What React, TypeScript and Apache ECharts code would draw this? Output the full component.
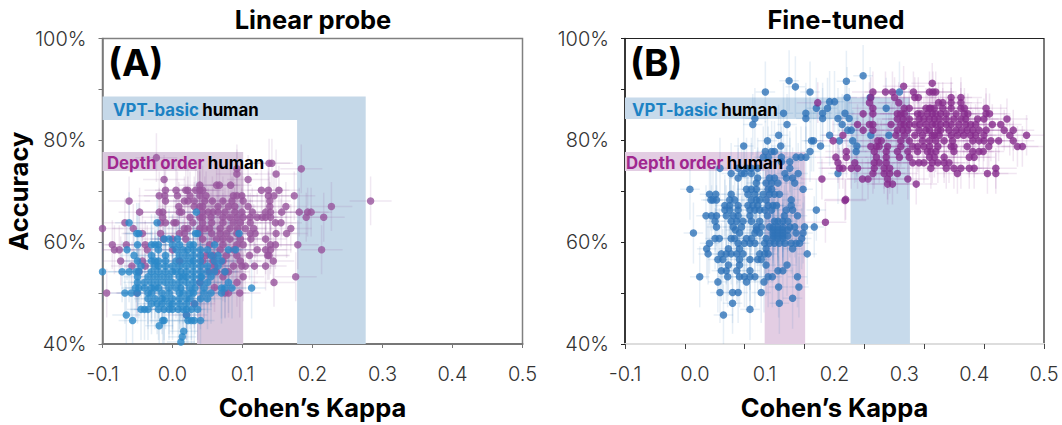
import React, { useEffect, useRef } from "react";
import * as echarts from "echarts";

type Row = [number, number[]];

const xTickLabels = ["-0.1", "0.0", "0.1", "0.2", "0.3", "0.4", "0.5"];

// Panel A, accuracy row then kappa values
const linearDepth: Row[] = [
  [76.6, [-0.023]],
  [75.5, [0.138, 0.142]],
  [74.4, [0.092, 0.184]],
  [73.4, [0.092, 0.148]],
  [72.3, [-0.012, 0.108]],
  [71.2, [0.039, 0.063, 0.067, 0.083]],
  [70.2, [-0.01, 0.005, 0.019, 0.022, 0.033, 0.039, 0.043, 0.127, 0.137, 0.152]],
  [69.1, [-0.019, -0.011, 0.007, 0.025, 0.039, 0.048, 0.087, 0.092, 0.099, 0.137, 0.145, 0.174]],
  [68.1, [-0.062, -0.01, 0.017, 0.022, 0.031, 0.046, 0.057, 0.072, 0.085, 0.101, 0.139, 0.283]],
  [67.0, [0.009, 0.031, 0.039, 0.043, 0.065, 0.08, 0.089, 0.108, 0.139, 0.162, 0.227]],
  [65.9, [-0.047, -0.019, -0.014, 0.01, 0.013, 0.043, 0.051, 0.058, 0.065, 0.075, 0.089, 0.099, 0.114, 0.133, 0.14, 0.156, 0.181, 0.193, 0.198]],
  [64.9, [-0.014, 0.025, 0.039, 0.043, 0.055, 0.072, 0.082, 0.092, 0.101, 0.111, 0.121, 0.128, 0.133, 0.14, 0.191, 0.216]],
  [63.8, [-0.068, -0.017, -0.01, 0.002, 0.005, 0.029, 0.043, 0.056, 0.072, 0.087, 0.097, 0.111, 0.147, 0.155]],
  [62.7, [-0.1, -0.056, 0.017, 0.022, 0.039, 0.046, 0.053, 0.068, 0.082, 0.093, 0.104, 0.116, 0.169]],
  [61.7, [-0.043, -0.017, 0.01, 0.017, 0.039, 0.056, 0.068, 0.077, 0.092, 0.111, 0.118, 0.148, 0.163]],
  [60.6, [-0.013, 0, 0.019, 0.043, 0.063, 0.072, 0.082, 0.097, 0.112, 0.133]],
  [59.5, [-0.086, -0.066, -0.039, 0.053, 0.072, 0.092, 0.101, 0.14, 0.147, 0.179]],
  [58.5, [-0.083, -0.076, -0.036, 0, 0.068, 0.087, 0.121, 0.133, 0.14, 0.213]],
  [57.4, [0.048, 0.058, 0.077, 0.092, 0.11, 0.136, 0.138]],
  [56.3, [-0.074, -0.043, 0.01, 0.043, 0.058, 0.072, 0.097, 0.144]],
  [55.3, [-0.058, -0.039, 0.06, 0.087, 0.099, 0.104, 0.117, 0.133]],
  [54.2, [-0.048, 0.053, 0.063, 0.075, 0.08]],
  [53.2, [0.072, 0.101, 0.176]],
  [52.1, [0.039, 0.092, 0.145]],
  [51.1, [0.06]],
  [50.0, [-0.094, -0.051, 0.075, 0.08, 0.096]],
  [47.9, [0.031]],
  [45.7, [0.02]],
];

const linearVpt: Row[] = [
  [65.9, [0.034]],
  [63.8, [-0.062, -0.022]],
  [61.7, [-0.051, -0.048, 0.033, 0.036, 0.095]],
  [60.6, [-0.012, -0.005, 0.007]],
  [59.5, [-0.05, -0.03, -0.025, -0.02, 0, 0.01, 0.025, 0.03, 0.06]],
  [58.5, [-0.065, -0.02, 0.005, 0.015, 0.022, 0.03, 0.04, 0.05, 0.08, 0.09]],
  [57.4, [-0.055, -0.03, -0.01, 0.01, 0.02, 0.03, 0.04, 0.055, 0.065]],
  [56.3, [-0.05, -0.03, -0.025, -0.02, -0.01, 0.005, 0.015, 0.025, 0.03, 0.04, 0.06, 0.07]],
  [55.3, [-0.045, -0.025, -0.02, -0.01, 0, 0.01, 0.02, 0.03, 0.04, 0.05, 0.065]],
  [54.2, [-0.1, -0.072, -0.062, -0.052, -0.048, -0.03, -0.02, -0.01, 0, 0.005, 0.012, 0.02, 0.03, 0.04, 0.05, 0.06, 0.075]],
  [53.2, [-0.05, -0.035, -0.025, -0.015, -0.005, 0.01, 0.015, 0.02, 0.03, 0.04, 0.042, 0.055]],
  [52.1, [-0.05, -0.04, -0.03, -0.02, -0.01, 0, 0.01, 0.02, 0.03, 0.04, 0.05, 0.08]],
  [51.0, [-0.053, -0.048, -0.04, -0.03, -0.025, -0.02, -0.005, 0.005, 0.012, 0.025, 0.032, 0.045, 0.07, 0.075, 0.085, 0.113]],
  [50.0, [-0.068, -0.059, -0.05, -0.035, -0.03, -0.015, -0.005, 0.01, 0.015, 0.025, 0.03, 0.045, 0.055, 0.07]],
  [48.9, [-0.035, -0.025, -0.015, -0.01, 0, 0.01, 0.02, 0.025, 0.04, 0.05]],
  [47.9, [-0.03, -0.022, -0.015, -0.005, 0, 0.01, 0.02, 0.032]],
  [46.8, [-0.045, -0.04, -0.035, -0.02, -0.012, -0.005, 0, 0.008, 0.015, 0.02, 0.027, 0.036]],
  [45.7, [-0.066, 0.02]],
  [44.6, [-0.057, -0.014, -0.012, 0.022, 0.027, 0.031, 0.04]],
  [43.6, [-0.019]],
  [42.5, [0.016]],
  [41.4, [0.014]],
  [40.4, [0.012]],
];

// Panel B
const tunedVpt: Row[] = [
  [92.7, [0.241]],
  [91.7, [0.135]],
  [91.6, [0.217]],
  [90.5, [0.144]],
  [89.5, [0.101, 0.165, 0.293]],
  [88.4, [0.218, 0.251]],
  [87.6, [0.193, 0.2]],
  [86.3, [0.174, 0.19, 0.274]],
  [85.3, [0.127, 0.159, 0.183, 0.215]],
  [84.3, [0.159, 0.183, 0.086, 0.205, 0.221]],
  [83.1, [0.083, 0.132, 0.211]],
  [82.0, [0.219, 0.224]],
  [81.0, [0.12, 0.193, 0.252, 0.278]],
  [79.9, [0.104, 0.167, 0.17, 0.207, 0.226]],
  [78.9, [0.07, 0.123, 0.18, 0.232]],
  [77.8, [0.101, 0.11, 0.114, 0.165, 0.231]],
  [76.7, [0.098, 0.105, 0.124, 0.145, 0.152, 0.159]],
  [75.8, [0.124, 0.136]],
  [74.5, [0.036, 0.062, 0.074, 0.081, 0.09, 0.136]],
  [73.5, [0.052, 0.067, 0.071, 0.081, 0.129, 0.148, 0.205]],
  [72.6, [0.062, 0.09, 0.107, 0.114, 0.131, 0.14]],
  [71.6, [0.088, 0.102, 0.11, 0.119, 0.143]],
  [70.4, [-0.007, 0.074, 0.081, 0.088, 0.105, 0.11, 0.155]],
  [69.4, [0.021, 0.03, 0.052, 0.076, 0.086, 0.098, 0.107, 0.114, 0.121]],
  [68.3, [0.023, 0.026, 0.031, 0.05, 0.057, 0.081, 0.088, 0.093, 0.102, 0.138]],
  [67.2, [0.043, 0.05, 0.062, 0.076, 0.083, 0.09, 0.105, 0.112, 0.117, 0.138]],
  [66.3, [0.043, 0.05, 0.062, 0.079, 0.086, 0.093, 0.1, 0.11, 0.131, 0.14, 0.174]],
  [65.2, [0.016, 0.024, 0.031, 0.045, 0.055, 0.062, 0.079, 0.104, 0.128, 0.147]],
  [64.1, [0.029, 0.052, 0.06, 0.069, 0.081, 0.093, 0.114, 0.119, 0.126, 0.133]],
  [63.0, [0.031, 0.055, 0.067, 0.088, 0.095, 0.107, 0.112, 0.119, 0.126, 0.136, 0.143, 0.157, 0.171]],
  [62.4, [0.058, 0.088, 0.112, 0.119, 0.126, 0.133]],
  [61.8, [-0.002, 0.064, 0.086, 0.093, 0.112, 0.119, 0.126, 0.145, 0.155]],
  [61.2, [0.112, 0.119, 0.126, 0.133]],
  [60.7, [0.029, 0.035, 0.052, 0.057, 0.074, 0.081, 0.102, 0.112, 0.119, 0.126, 0.153]],
  [59.8, [0.021, 0.062, 0.071, 0.079, 0.086, 0.1, 0.107, 0.114, 0.121, 0.129, 0.138, 0.145, 0.15]],
  [58.7, [0.017, 0.048, 0.064, 0.102, 0.14]],
  [57.7, [0.019, 0.038, 0.045, 0.052, 0.06, 0.069, 0.093, 0.1, 0.105, 0.161]],
  [56.6, [0.033, 0.04, 0.064, 0.079, 0.09, 0.095]],
  [55.5, [0.048, 0.064, 0.102, 0.132]],
  [54.4, [0.038, 0.045, 0.06, 0.079, 0.119, 0.126]],
  [53.2, [0.007, 0.047, 0.064, 0.071, 0.079, 0.086, 0.105, 0.111, 0.147]],
  [52.2, [0.033, 0.074, 0.099]],
  [51.2, [0.12, 0.149]],
  [50.1, [0.036, 0.054, 0.062, 0.095]],
  [49.0, [0.14]],
  [48.0, [0.054, 0.121]],
  [46.8, [0.079]],
  [45.7, [0.041]],
];

const tunedDepth: Row[] = [
  [91.2, [0.34]],
  [90.6, [0.299]],
  [89.5, [0.255, 0.273, 0.283, 0.313, 0.336, 0.341, 0.345]],
  [88.4, [0.252, 0.286, 0.315, 0.32, 0.367, 0.381]],
  [87.4, [0.176, 0.25, 0.292, 0.349, 0.355, 0.367, 0.381]],
  [86.3, [0.255, 0.3, 0.307, 0.331, 0.336, 0.338, 0.343, 0.355, 0.367, 0.381, 0.386, 0.417]],
  [85.2, [0.241, 0.255, 0.29, 0.295, 0.3, 0.319, 0.324, 0.333, 0.34, 0.345, 0.352, 0.36, 0.374, 0.386, 0.391, 0.417, 0.422]],
  [84.2, [0.29, 0.298, 0.307, 0.321, 0.328, 0.336, 0.343, 0.35, 0.36, 0.371, 0.381, 0.388, 0.405, 0.414, 0.447]],
  [83.1, [0.233, 0.25, 0.255, 0.281, 0.295, 0.3, 0.307, 0.315, 0.322, 0.331, 0.34, 0.345, 0.352, 0.36, 0.367, 0.378, 0.388, 0.395, 0.402, 0.426, 0.438]],
  [82.0, [0.241, 0.255, 0.29, 0.298, 0.305, 0.321, 0.331, 0.336, 0.348, 0.352, 0.364, 0.374, 0.382, 0.39, 0.398, 0.407, 0.417, 0.443, 0.456]],
  [81.0, [0.212, 0.288, 0.3, 0.315, 0.326, 0.34, 0.343, 0.35, 0.367, 0.376, 0.385, 0.395, 0.402, 0.414, 0.451, 0.475]],
  [79.9, [0.198, 0.262, 0.267, 0.295, 0.307, 0.326, 0.336, 0.345, 0.357, 0.369, 0.398, 0.407, 0.414, 0.424, 0.435, 0.456]],
  [78.8, [0.252, 0.26, 0.264, 0.276, 0.295, 0.312, 0.319, 0.328, 0.336, 0.348, 0.367, 0.371, 0.39, 0.421, 0.462, 0.469]],
  [77.8, [0.217, 0.257, 0.274, 0.29, 0.305, 0.319, 0.333, 0.338, 0.345, 0.371, 0.398, 0.407, 0.413]],
  [76.7, [0.202, 0.217, 0.26, 0.274, 0.293, 0.307, 0.336, 0.343, 0.357, 0.393, 0.4]],
  [75.6, [0.205, 0.229, 0.257, 0.264, 0.274, 0.312, 0.321, 0.328, 0.34, 0.348, 0.357, 0.364]],
  [74.5, [0.207, 0.212, 0.224, 0.233, 0.257, 0.271, 0.279, 0.338, 0.36, 0.371, 0.381, 0.393, 0.4, 0.431]],
  [73.5, [0.255, 0.271, 0.279, 0.29, 0.376, 0.419, 0.431]],
  [72.4, [0.24, 0.248, 0.276, 0.305, 0.182]],
  [71.4, [0.276, 0.283, 0.317]],
  [68.4, [0.216]],
  [68.2, [0.215]],
  [63.9, [0.187]],
];

// Human reference bands: [kappa low, kappa high, accuracy low, accuracy high]
const bandsLinearVpt = [[-0.1, 0.276, 84.0, 88.6], [0.178, 0.276, 40, 84.0]];
const bandsLinearDepth = [[-0.1, 0.101, 74.0, 77.7], [0.035, 0.101, 40, 74.0]];
const bandsTunedVpt = [[-0.1, 0.308, 84.2, 88.4], [0.223, 0.308, 40, 84.2]];
const bandsTunedDepth = [[-0.1, 0.158, 74.0, 77.7], [0.1, 0.158, 40, 74.0]];

const flatten = (rows: Row[]) => rows.flatMap(([acc, ks]) => ks.map((k) => [k, acc]));

const FONT = "Inter";

const bandSeries = (idx: number, data: number[][], color: string, z: number) => ({
  type: "custom",
  xAxisIndex: idx,
  yAxisIndex: idx,
  z,
  clip: true,
  silent: true,
  data,
  encode: { x: [0, 1], y: [2, 3] },
  renderItem: (_p: any, api: any) => {
    const a = api.coord([api.value(0), api.value(3)]);
    const b = api.coord([api.value(1), api.value(2)]);
    return { type: "rect", shape: { x: a[0], y: a[1], width: b[0] - a[0], height: b[1] - a[1] }, style: { fill: color } };
  },
});

const errSeries = (idx: number, data: number[][], ex: number, ey: number, color: string, z: number) => ({
  type: "custom",
  xAxisIndex: idx,
  yAxisIndex: idx,
  z,
  clip: true,
  silent: true,
  data,
  encode: { x: 0, y: 1 },
  renderItem: (_p: any, api: any) => {
    const x = api.value(0);
    const y = api.value(1);
    const l = api.coord([x - ex, y]);
    const r = api.coord([x + ex, y]);
    const t = api.coord([x, y + ey]);
    const b = api.coord([x, y - ey]);
    const style = { stroke: color, lineWidth: 1.5, fill: "none" };
    return {
      type: "group",
      children: [
        { type: "line", shape: { x1: l[0], y1: l[1], x2: r[0], y2: r[1] }, style },
        { type: "line", shape: { x1: t[0], y1: t[1], x2: b[0], y2: b[1] }, style },
      ],
    };
  },
});

const dotSeries = (idx: number, name: string, data: number[][], color: string, size: number, z: number) => ({
  type: "scatter",
  name,
  xAxisIndex: idx,
  yAxisIndex: idx,
  z,
  clip: true,
  symbol: "circle",
  symbolSize: size,
  itemStyle: { color },
  data,
});

const axisName = { color: "#000", fontFamily: FONT, fontWeight: 700, fontSize: 25.5 };
const tickLabel = { color: "#333", fontFamily: FONT, fontWeight: 300, fontSize: 20 };

const makeY = (gridIndex: number, name: string, line: string) => ({
  type: "value",
  gridIndex,
  min: 40,
  max: 100,
  interval: 10,
  name,
  nameLocation: "middle",
  nameGap: 71,
  nameRotate: 90,
  nameTextStyle: axisName,
  axisLine: { show: true, onZero: false, lineStyle: { color: line, width: 1.5 } },
  axisTick: { show: true, length: 4, lineStyle: { color: line } },
  splitLine: { show: false },
  axisLabel: { ...tickLabel, margin: 16, formatter: (v: number) => (v % 20 === 0 ? v + "%" : "") },
});

const makeX = (gridIndex: number, ticks: boolean, line: string, width: number) => ({
  type: "value",
  gridIndex,
  min: -0.1,
  max: 0.5,
  interval: 0.1,
  name: "Cohen\u2019s Kappa",
  nameLocation: "middle",
  nameGap: 50,
  nameTextStyle: axisName,
  axisLine: { show: true, onZero: false, lineStyle: { color: line, width } },
  axisTick: { show: ticks, length: 4, lineStyle: { color: "#777" } },
  splitLine: { show: false },
  axisLabel: {
    ...tickLabel,
    margin: 20,
    formatter: (v: number) => xTickLabels[Math.round((v + 0.1) * 10)],
  },
});

const humanLabel = (x: number, y: number, what: string, key: string) => ({
  type: "text",
  x,
  y,
  z: 20,
  style: {
    rich: {
      [key]: { fill: key === "v" ? "#1c82c4" : "#a0278f", fontFamily: FONT, fontWeight: 700, fontSize: 16.8 },
      h: { fill: "#000", fontFamily: FONT, fontWeight: 700, fontSize: 16.8 },
    },
    text: `{${key}|${what}} {h|human}`,
    verticalAlign: "middle",
  },
});

const panelTag = (x: number, text: string) => ({
  type: "text",
  x,
  y: 62,
  z: 20,
  style: { text, fill: "#000", fontFamily: FONT, fontWeight: 700, fontSize: 37, verticalAlign: "middle" },
});

export default function App() {
  const ref = useRef<HTMLDivElement>(null);
  useEffect(() => {
    const chart = echarts.init(ref.current!, undefined, { renderer: "svg" });
    const ld = flatten(linearDepth);
    const lv = flatten(linearVpt);
    const td = flatten(tunedDepth);
    const tv = flatten(tunedVpt);
    chart.setOption({
      animation: false,
      backgroundColor: "#fff",
      title: [
        { text: "Linear probe", left: 313, top: 6, padding: 0, textAlign: "center", textStyle: { ...axisName } },
        { text: "Fine-tuned", left: 836, top: 6, padding: 0, textAlign: "center", textStyle: { ...axisName } },
      ],
      grid: [
        { left: 102.5, width: 420, top: 38.5, height: 312.5, show: true, borderColor: "#808080", borderWidth: 1.5, backgroundColor: "transparent" },
        { left: 625, width: 419, top: 38.5, height: 312.5, show: true, borderColor: "#222", borderWidth: 1.2, backgroundColor: "transparent" },
      ],
      xAxis: [
        makeX(0, true, "#777", 2),
        makeX(1, false, "#ddd", 2),
        {
          type: "value", gridIndex: 1, min: 0, max: 7, interval: 1, position: "bottom",
          axisLine: { show: false, onZero: false },
          axisTick: { show: true, length: 5, lineStyle: { color: "#444" } },
          axisLabel: { show: false },
          splitLine: { show: false },
        },
      ],
      yAxis: [makeY(0, "Accuracy", "#777"), makeY(1, "", "#222")],
      series: [
        bandSeries(0, bandsLinearVpt, "#c5d8e8", 1),
        bandSeries(0, bandsLinearDepth, "#d9c8dd", 1.5),
        errSeries(0, ld, 0.03, 4.8, "rgba(150,90,165,0.14)", 2),
        errSeries(0, lv, 0.02, 6, "rgba(60,130,190,0.14)", 2.5),
        dotSeries(0, "Depth order", ld, "#97549c", 7.5, 3),
        dotSeries(0, "VPT-basic", lv, "#2a88c8", 7.5, 4),
        bandSeries(1, bandsTunedVpt, "#c7daeb", 1),
        bandSeries(1, bandsTunedDepth, "#e3cde3", 1.5),
        errSeries(1, tv, 0.014, 6, "rgba(60,120,190,0.12)", 2),
        errSeries(1, td, 0.03, 4, "rgba(140,50,150,0.12)", 2.5),
        dotSeries(1, "VPT-basic", tv, "#2f73b8", 7.5, 3),
        dotSeries(1, "Depth order", td, "#862c8c", 7.5, 4),
      ],
      graphic: [
        panelTag(108, "(A)"),
        panelTag(630, "(B)"),
        humanLabel(113, 110, "VPT-basic", "v"),
        humanLabel(107, 163, "Depth order", "d"),
        humanLabel(632, 110, "VPT-basic", "v"),
        humanLabel(626, 163, "Depth order", "d"),
      ],
    });
    return () => chart.dispose();
  }, []);
  return <div ref={ref} style={{ position: "fixed", left: 0, top: 0, width: 1062, height: 425 }} />;
}
